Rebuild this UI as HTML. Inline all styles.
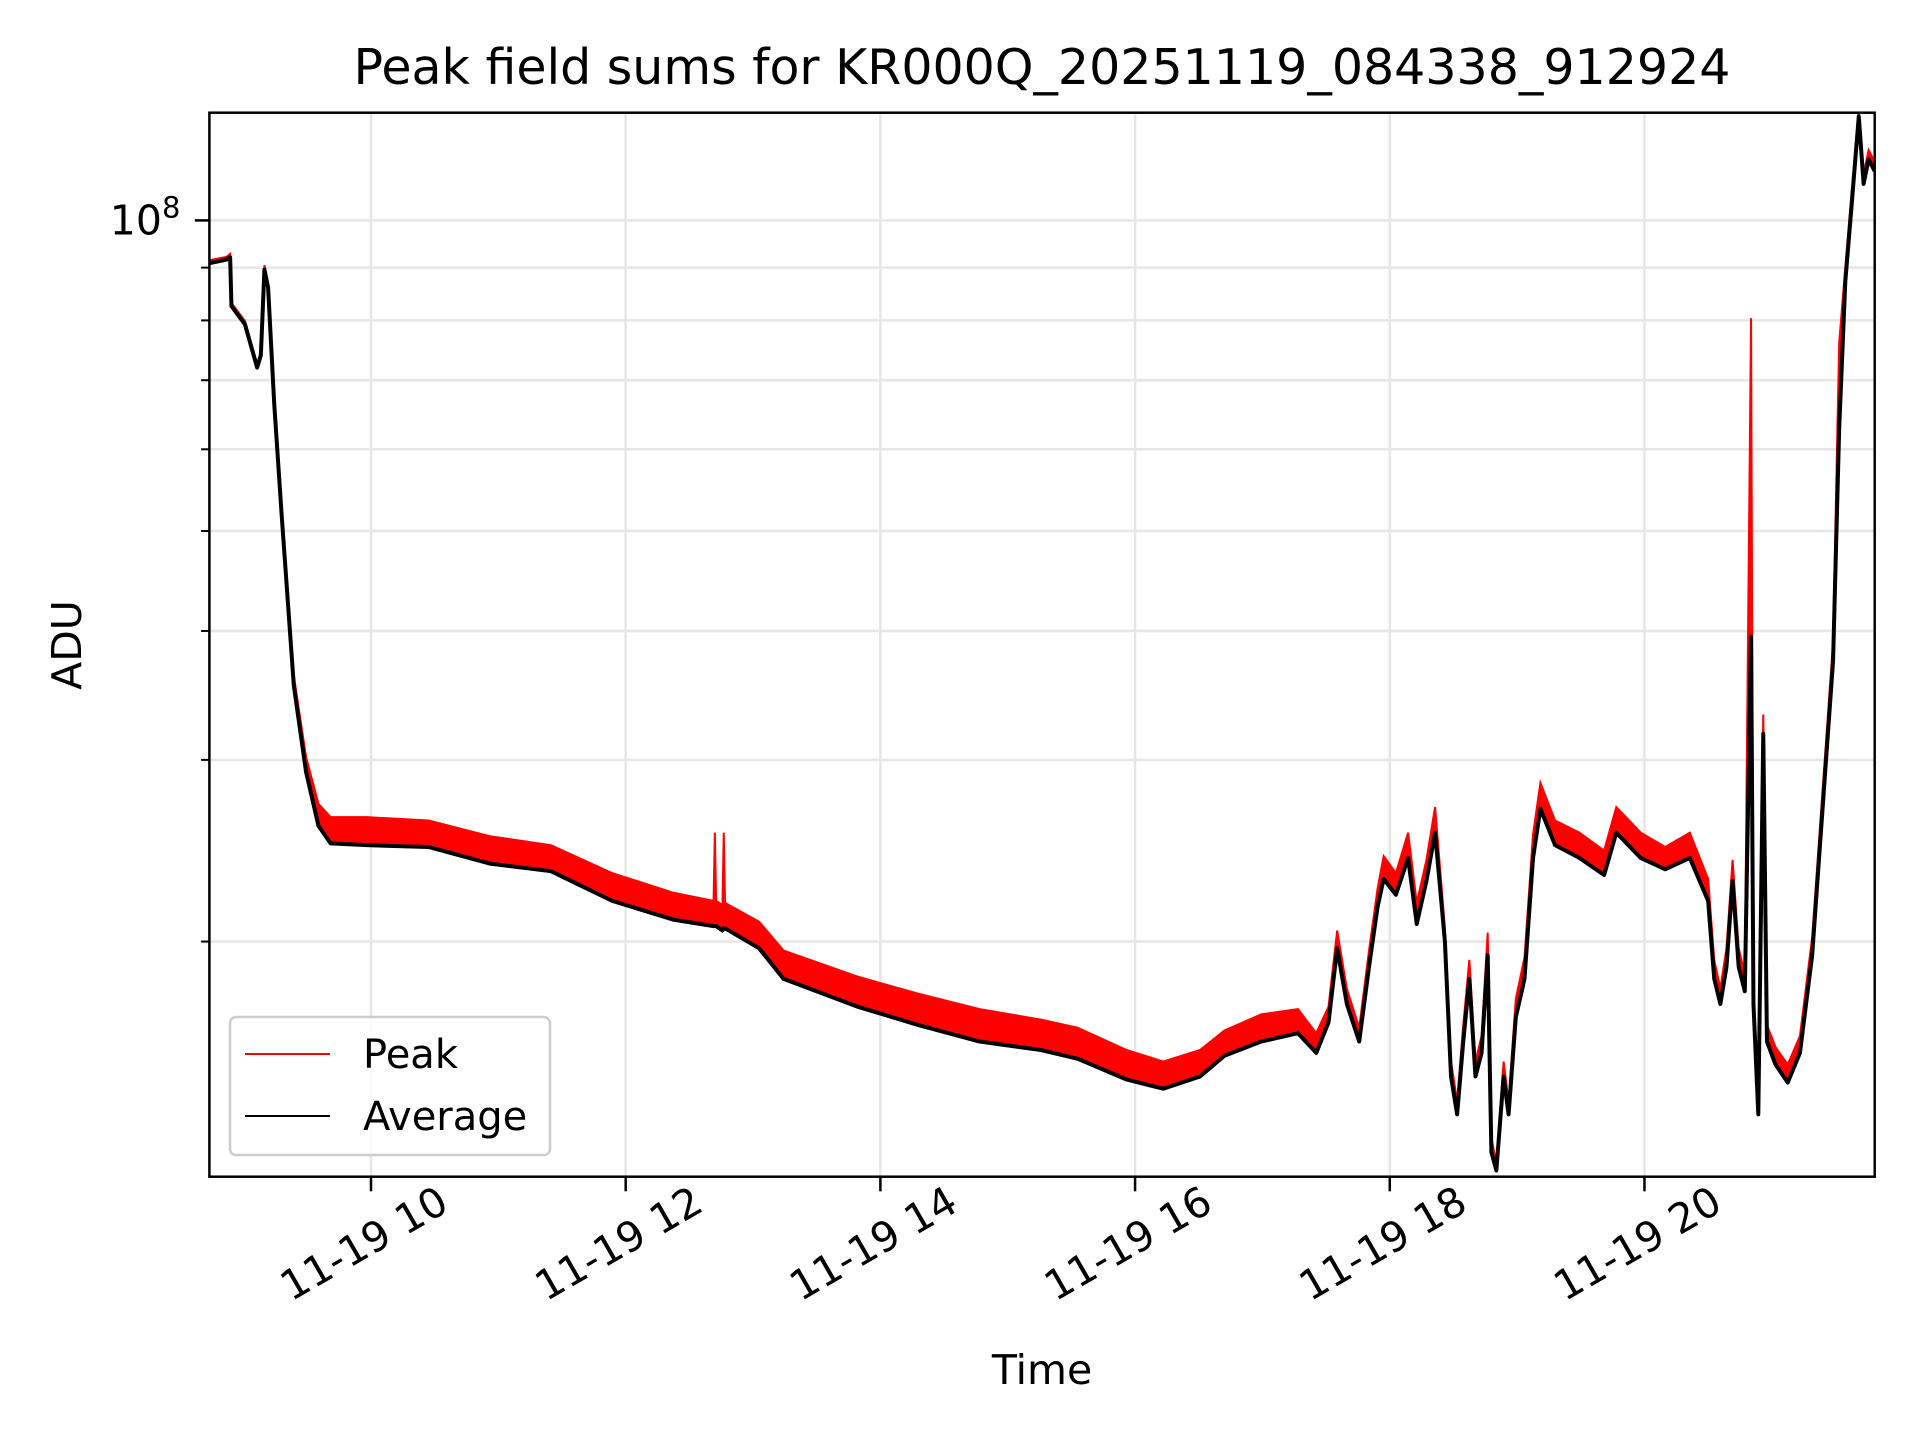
<!DOCTYPE html>
<html><head><meta charset="utf-8">
<style>
html,body{margin:0;padding:0;background:#fff;}
svg{display:block;font-family:"DejaVu Sans","Liberation Sans",sans-serif;}
</style></head>
<body>
<svg id="chart" width="1920" height="1440" viewBox="0 0 1920 1440" xmlns="http://www.w3.org/2000/svg">
<rect width="1920" height="1440" fill="#fff"/>
<text x="1042" y="84" font-size="49" text-anchor="middle" fill="#000">Peak field sums for KR000Q_20251119_084338_912924</text>
<g id="grid"></g>
<g id="series"></g>
<rect x="209.4" y="112.7" width="1665.3" height="1064" fill="none" stroke="#000" stroke-width="2.5"/>
<g id="axes"></g>
<text transform="translate(81,645) rotate(-90)" font-size="41" text-anchor="middle" fill="#000">ADU</text>
<text x="1042" y="1384" font-size="41" text-anchor="middle" fill="#000">Time</text>
<g>
<rect x="230" y="1017" width="320" height="138" rx="6" fill="#fff" fill-opacity="0.85" stroke="#ccc" stroke-width="2.5"/>
<line x1="245" y1="1054" x2="330" y2="1054" stroke="#f00" stroke-width="2"/>
<text x="363" y="1068" font-size="40" fill="#000">Peak</text>
<line x1="245" y1="1116" x2="330" y2="1116" stroke="#000" stroke-width="2"/>
<text x="363" y="1130" font-size="40" fill="#000">Average</text>
</g>
</svg>
<script>
// hours since midnight 2025-11-19
const times = [8.731,8.865,8.894,8.904,9.010,9.106,9.135,9.163,9.192,9.240,9.298,9.394,9.490,9.587,9.683,9.971,10.452,10.933,11.413,11.894,12.375,12.69,12.70,12.71,12.760,12.77,12.78,13.048,13.240,13.817,14.298,14.779,15.260,15.548,15.933,16.221,16.510,16.702,16.990,17.279,17.423,17.519,17.587,17.663,17.760,17.837,17.904,17.952,18.048,18.144,18.212,18.288,18.356,18.433,18.481,18.529,18.577,18.625,18.673,18.721,18.769,18.798,18.837,18.894,18.933,18.990,19.058,19.125,19.183,19.298,19.490,19.683,19.779,19.971,20.163,20.356,20.500,20.548,20.596,20.644,20.692,20.740,20.788,20.837,20.856,20.894,20.933,20.962,21.029,21.125,21.221,21.317,21.413,21.481,21.529,21.577,21.625,21.683,21.721,21.760,21.808];
// values in units of 1e7 ADU
const averageVals = [9.09,9.16,9.21,8.26,7.93,7.20,7.40,8.96,8.61,6.64,5.19,3.54,2.92,2.59,2.49,2.48,2.47,2.38,2.34,2.19,2.10,2.07,2.07,2.07,2.05,2.06,2.06,1.97,1.84,1.73,1.66,1.60,1.57,1.54,1.47,1.44,1.48,1.55,1.60,1.63,1.56,1.67,1.97,1.74,1.60,1.89,2.16,2.30,2.22,2.41,2.08,2.29,2.55,2.00,1.48,1.36,1.60,1.84,1.48,1.56,1.94,1.25,1.20,1.48,1.36,1.69,1.84,2.41,2.69,2.48,2.41,2.32,2.55,2.41,2.35,2.41,2.19,1.84,1.74,1.89,2.29,1.89,1.79,3.95,1.74,1.36,3.18,1.60,1.52,1.46,1.56,1.94,2.85,3.74,6.28,8.72,10.28,12.61,10.85,11.46,11.16];
const peakVals = [9.15,9.22,9.28,8.32,7.99,7.26,7.46,9.05,8.70,6.72,5.28,3.62,3.02,2.72,2.64,2.64,2.62,2.53,2.48,2.33,2.23,2.19,2.55,2.19,2.17,2.55,2.18,2.09,1.96,1.85,1.78,1.72,1.68,1.65,1.57,1.53,1.57,1.64,1.70,1.72,1.63,1.73,2.05,1.80,1.65,1.96,2.25,2.42,2.33,2.55,2.18,2.40,2.70,2.06,1.53,1.40,1.66,1.92,1.53,1.62,2.04,1.29,1.22,1.53,1.40,1.76,1.93,2.54,2.85,2.62,2.55,2.45,2.70,2.55,2.47,2.55,2.30,1.92,1.80,1.97,2.40,1.97,1.86,8.04,1.80,1.40,3.32,1.66,1.58,1.52,1.62,2.02,2.97,3.90,7.61,9.00,10.6,12.8,11.1,11.7,11.4];
const xTickHours = [10,12,14,16,18,20];
const xTickLabels = ["11-19 10","11-19 12","11-19 14","11-19 16","11-19 18","11-19 20"];
const yMinorVals = [2e7,3e7,4e7,5e7,6e7,7e7,8e7,9e7];

const NS="http://www.w3.org/2000/svg";
const L=209.4,R=1874.7,T=112.7,B=1176.7;
const tMin=8.731,tMax=21.808,lMin=7.0731,lMax=8.1044;
function xs(h){return L+(h-tMin)/(tMax-tMin)*(R-L);}
function ys(v){return B-(Math.log10(v)-lMin)/(lMax-lMin)*(B-T);}
function mk(tag,attrs,parent){const e=document.createElementNS(NS,tag);for(const k in attrs)e.setAttribute(k,attrs[k]);parent.appendChild(e);return e;}
const grid=document.getElementById('grid'),series=document.getElementById('series'),axes=document.getElementById('axes');

xTickHours.forEach((h,i)=>{
  const x=xs(h);
  const g=mk('line',{x1:x,y1:T,x2:x,y2:B,stroke:'#e6e6e6','stroke-width':2.5},grid);
  
  
  const t=mk('line',{x1:x,y1:B,x2:x,y2:B+14.6,stroke:'#000','stroke-width':2.5},axes);
  
  
  const lb=mk('text',{transform:`translate(${x},${B+79}) rotate(-30)`,'font-size':41,'text-anchor':'middle',fill:'#000'},axes);
  lb.textContent=xTickLabels[i];
  
  
});
yMinorVals.concat([1e8]).forEach(v=>{
  const y=ys(v);
  const g=mk('line',{x1:L,y1:y,x2:R,y2:y,stroke:'#e6e6e6','stroke-width':2.5},grid);
  
  
  const major=v===1e8;
  const t=mk('line',{x1:L-(major?14.6:8.3),y1:y,x2:L,y2:y,stroke:'#000','stroke-width':major?2.5:2},axes);
  
  
});
const yl=mk('text',{x:L-29,y:ys(1e8)+14,'font-size':41,'text-anchor':'end',fill:'#000'},axes);


yl.innerHTML='10<tspan dy="-17" font-size="29">8</tspan>';

const clip=mk('clipPath',{id:'pc'},series);
mk('rect',{x:L,y:T,width:R-L,height:B-T},clip);
const pk=times.map((t,i)=>[xs(t),ys(peakVals[i]*1e7)]);
const av=times.map((t,i)=>[xs(t),ys(averageVals[i]*1e7)]);
const band=mk('polygon',{points:pk.concat(av.slice().reverse()).map(p=>p.join(',')).join(' '),fill:'#f00','clip-path':'url(#pc)'},series);


const pl=mk('polyline',{points:pk.map(p=>p.join(',')).join(' '),fill:'none',stroke:'#f00','stroke-width':2,'clip-path':'url(#pc)'},series);


const al=mk('polyline',{points:av.map(p=>p.join(',')).join(' '),fill:'none',stroke:'#000','stroke-width':4,'stroke-linejoin':'round','clip-path':'url(#pc)'},series);


</script>
</body></html>
